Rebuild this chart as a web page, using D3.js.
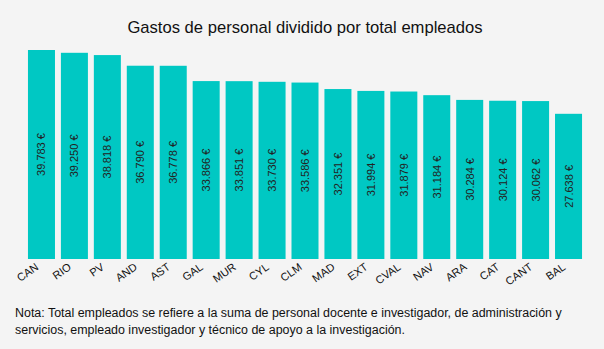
<!DOCTYPE html>
<html><head><meta charset="utf-8">
<script src="https://cdn.jsdelivr.net/npm/d3@7"></script>
<style>
html,body{margin:0;padding:0;background:#f4f4f4;}
svg{display:block;font-family:"Liberation Sans",Arial,sans-serif;}
</style></head>
<body>
<svg id="c" width="604" height="349"></svg>
<script>
const categories = ["CAN","RIO","PV","AND","AST","GAL","MUR","CYL","CLM","MAD","EXT","CVAL","NAV","ARA","CAT","CANT","BAL"];
const values = [39783,39250,38818,36790,36778,33866,33851,33730,33586,32351,31994,31879,31184,30284,30124,30062,27638];
const title = "Gastos de personal dividido por total empleados";
const noteLines = ["Nota: Total empleados se refiere a la suma de personal docente e investigador, de administración y",
                   "servicios, empleado investigador y técnico de apoyo a la investigación."];

const svg = d3.select("#c");
svg.append("rect").attr("width",604).attr("height",349).attr("fill","#f4f4f4");

const loc = d3.formatLocale({decimal:",",thousands:".",grouping:[3],currency:["","\u00a0€"]});
const fmt = loc.format(",d");

const x = d3.scaleBand().domain(categories).range([25,585]).paddingInner(0.18).paddingOuter(0.09);
const y = d3.scaleLinear().domain([0, d3.max(values)]).range([259,50]);

svg.append("text").attr("x",305).attr("y",33).attr("text-anchor","middle")
  .attr("font-size",16.6).attr("fill","#111").text(title);

const data = categories.map((c,i)=>({c, v: values[i]}));
svg.selectAll("rect.bar").data(data).join("rect").attr("class","bar")
  .attr("x",d=>x(d.c)).attr("width",x.bandwidth())
  .attr("y",d=>y(d.v)).attr("height",d=>y(0)-y(d.v)).attr("fill","#00c8c3");

svg.selectAll("text.val").data(data).join("text").attr("class","val")
  .attr("transform",d=>`translate(${x(d.c)+x.bandwidth()/2+4},${(y(d.v)+y(0))/2}) rotate(-90)`)
  .attr("text-anchor","middle").attr("font-size",11).attr("fill","#222")
  .text(d=>fmt(d.v)+" €");

const xAxis = d3.axisBottom(x).tickSize(0).tickPadding(0);
const gx = svg.append("g").attr("transform",`translate(0,${y(0)})`).call(xAxis);
gx.select(".domain").remove();
gx.selectAll("text").attr("font-size",11).attr("fill","#111").attr("font-family","Liberation Sans, Arial, sans-serif")
  .attr("text-anchor","end").attr("y",0)
  .attr("transform","translate(-4.5,6.5) rotate(-35)").attr("dy","0.35em");

noteLines.forEach((t,i)=>{
  svg.append("text").attr("x",15).attr("y",317+i*17).attr("font-size",12.45).attr("fill","#111").text(t);
});
</script>
</body></html>
